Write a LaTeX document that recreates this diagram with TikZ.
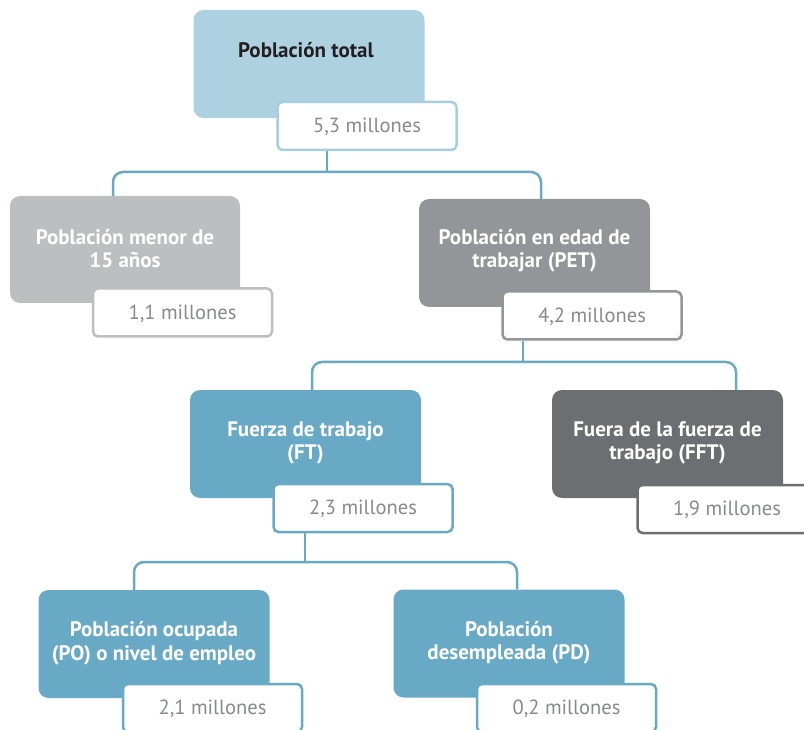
\documentclass[tikz,border=0pt]{standalone}
\usepackage{fontspec}
\setmainfont{PT Sans}
\usetikzlibrary{backgrounds}
\definecolor{lblue}{HTML}{AED1E1}
\definecolor{lblueb}{HTML}{A6CEDF}
\definecolor{lgray}{HTML}{BCBEC0}
\definecolor{mgray}{HTML}{939598}
\definecolor{mblue}{HTML}{68AAC6}
\definecolor{dgray}{HTML}{6D6E71}
\definecolor{valtext}{HTML}{87898B}
\definecolor{darktext}{HTML}{231F20}
\tikzset{
  box/.style={rounded corners=10pt, minimum width=231pt, minimum height=108pt, inner sep=0pt},
  valbox/.style={draw, line width=2.5pt, fill=white, rounded corners=5pt, minimum width=179pt, minimum height=48pt, inner sep=0pt, text=valtext, font=\fontsize{20.5}{23}\selectfont, text depth=1pt},
  ttl/.style={font=\bfseries\fontsize{21}{23.5}\selectfont, align=center, text=white, inner sep=0pt},
  conn/.style={draw=mblue, line width=2.5pt, rounded corners=10pt}
}
\begin{document}
\begin{tikzpicture}[x=1pt,y=-1pt]
\useasboundingbox (0,0) rectangle (804,730);
\clip (0,0) rectangle (804,730);
% main boxes
\node[box, fill=lblue] (b1) at (309,64) {};
\node[box, fill=lgray, minimum width=230pt, minimum height=107pt] (b2) at (125,249.5) {};
\node[box, fill=mgray] (b3) at (534.5,253) {};
\node[box, fill=mblue] (b4) at (305.5,444) {};
\node[box, fill=dgray] (b5) at (667.5,444) {};
\node[box, fill=mblue] (b6) at (154,644) {};
\node[box, fill=mblue] (b7) at (509,643.5) {};
% titles
\node[ttl, text=darktext] (t1) at ([xshift=-3pt,yshift=14pt]b1.center) {Población total};
\node[ttl] (t2) at ([yshift=1pt]b2.center) {Población menor de\\15 años};
\node[ttl] (t3) at ([yshift=2pt]b3.center) {Población en edad de\\trabajar (PET)};
\node[ttl] (t4) at ([yshift=1pt]b4.center) {Fuerza de trabajo\\(FT)};
\node[ttl] (t5) at ([yshift=1pt]b5.center) {Fuera de la fuerza de\\trabajo (FFT)};
\node[ttl] (t6) at ([yshift=1pt]b6.center) {Población ocupada\\(PO) o nivel de empleo};
\node[ttl] (t7) at ([yshift=1pt]b7.center) {Población\\desempleada (PD)};
% value boxes
\node[valbox, draw=lblueb] (v1) at (367,126) {5,3 millones};
\node[valbox, draw=lgray] (v2) at (182.5,312.5) {1,1 millones};
\node[valbox, draw=mgray] (v3) at (592,315.5) {4,2 millones};
\node[valbox, draw=mblue] (v4) at (363,508) {2,3 millones};
\node[valbox, draw=dgray] (v5) at (727,509) {1,9 millones};
\node[valbox, draw=mblue] (v6) at (212.5,708) {2,1 millones};
\node[valbox, draw=mblue] (v7) at (566.5,708) {0,2 millones};
% connectors
\coordinate (j1) at (327,172);
\coordinate (l1) at (113,172);
\coordinate (r1) at (541,172);
\coordinate (j2) at (523,362);
\coordinate (l2) at (312,362);
\coordinate (r2) at (736,362);
\coordinate (j3) at (305,562);
\coordinate (l3) at (134,562);
\coordinate (r3) at (517,562);
\begin{scope}[on background layer]
\draw[conn] (j1 |- v1.south) -- (j1);
\draw[conn] (l1 |- b2.north) -- (l1) -- (r1) -- (r1 |- b3.north);
\draw[conn] (j2 |- v3.south) -- (j2);
\draw[conn] (l2 |- b4.north) -- (l2) -- (r2) -- (r2 |- b5.north);
\draw[conn] (j3 |- v4.south) -- (j3);
\draw[conn] (l3 |- b6.north) -- (l3) -- (r3) -- (r3 |- b7.north);
\end{scope}
\end{tikzpicture}
\end{document}
